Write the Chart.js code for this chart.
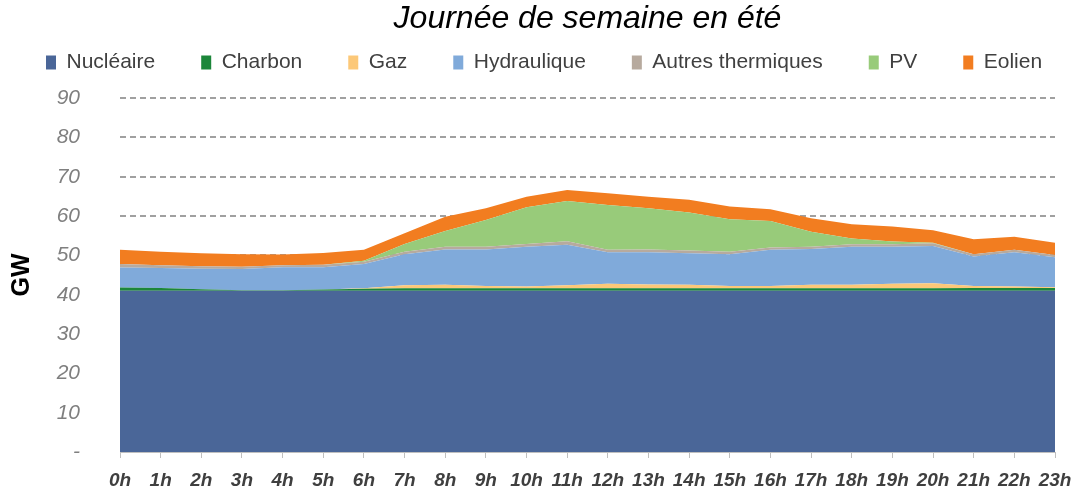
<!DOCTYPE html>
<html>
<head>
<meta charset="utf-8">
<script src="https://cdn.jsdelivr.net/npm/chart.js@4/dist/chart.umd.min.js"></script>
<style>
  html, body { margin: 0; padding: 0; background: #fff; }
  #wrap { width: 1077px; height: 493px; position: relative; }
</style>
</head>
<body>
<div id="wrap"><canvas id="chart"></canvas></div>
<script>
// Data (GW)
const hours = ["0h","1h","2h","3h","4h","5h","6h","7h","8h","9h","10h","11h","12h","13h","14h","15h","16h","17h","18h","19h","20h","21h","22h","23h"];
const nucleaire = [41,41,41,41,41,41,41,41,41,41,41,41,41,41,41,41,41,41,41,41,41,41,41,41];
const charbon = [0.8,0.7,0.4,0.1,0.1,0.3,0.5,0.6,0.6,0.6,0.6,0.6,0.6,0.6,0.6,0.6,0.6,0.6,0.6,0.6,0.6,0.7,0.7,0.7];
const gaz = [0,0,0,0,0,0,0.1,0.8,0.9,0.6,0.5,0.8,1.2,1.0,0.9,0.6,0.6,0.9,0.9,1.2,1.3,0.5,0.4,0.2];
const hydraulique = [5.1,5.1,5.2,5.4,5.9,5.7,6.2,7.9,9.0,9.3,10.1,10.3,8.0,8.2,8.0,8.1,9.2,9.1,9.7,9.4,9.5,7.5,8.7,7.6];
const autresThermiques = [0.9,0.7,0.6,0.6,0.5,0.6,0.6,0.6,0.7,0.7,0.7,0.9,0.6,0.7,0.7,0.6,0.6,0.6,0.6,0.6,0.7,0.6,0.6,0.6];
const pv = [0,0,0,0,0,0,0.2,2.0,4.0,6.8,9.3,10.2,11.4,10.5,9.7,8.3,6.7,3.8,1.5,0.7,0.1,0,0,0];
const eolien = [3.6,3.4,3.3,3.2,2.7,3.0,2.8,2.7,3.6,3.0,2.7,2.8,3.0,2.9,3.2,3.2,3.0,3.4,3.6,3.8,3.2,3.8,3.3,3.1];

const yTicks = [0,10,20,30,40,50,60,70,80,90];
const titleText = "Journée de semaine en été";

const FONT = "'Liberation Sans', Arial, sans-serif";

function area(label, data, color, first) {
  return {
    label: label,
    data: data,
    backgroundColor: color,
    borderColor: color,
    borderWidth: 0,
    pointRadius: 0,
    tension: 0,
    fill: first ? "origin" : "-1"
  };
}

// title centred over the plot area, like the original
const plotTitle = {
  id: "plotTitle",
  afterDraw(chart) {
    const ctx = chart.ctx;
    const a = chart.chartArea;
    ctx.save();
    ctx.font = "italic 32px " + FONT;
    ctx.fillStyle = "#000";
    ctx.textAlign = "center";
    ctx.textBaseline = "middle";
    ctx.fillText(titleText, (a.left + a.right) / 2, 19);
    ctx.restore();
  }
};

// keep the legend on one row and leave room under it
const legendFit = {
  id: "legendFit",
  beforeInit(chart) {
    const fit = chart.legend.fit;
    chart.legend.fit = function () {
      const mw = this.maxWidth;
      this.maxWidth = 3000;
      fit.bind(chart.legend)();
      this.maxWidth = mw;
      this.width = mw;
      this.height += 15;
    };
  },
  beforeDraw(chart) {
    chart.legend.right = 5000;
  }
};

new Chart(document.getElementById("chart"), {
  type: "line",
  data: {
    labels: hours,
    datasets: [
      area("Nucléaire", nucleaire, "#4a6698", true),
      area("Charbon", charbon, "#1c863a"),
      area("Gaz", gaz, "#fcc878"),
      area("Hydraulique", hydraulique, "#80aada"),
      area("Autres thermiques", autresThermiques, "#b7aa9e"),
      area("PV", pv, "#98cb7a"),
      area("Eolien", eolien, "#f27d20")
    ]
  },
  options: {
    responsive: true,
    maintainAspectRatio: false,
    animation: false,
    layout: { padding: { top: 6, right: 0, bottom: 0, left: 0 } },
    plugins: {
      legend: {
        position: "top",
        align: "start",
        labels: {
          boxWidth: 10,
          boxHeight: 14,
          padding: 46,
          color: "#404040",
          font: { family: FONT, size: 21 }
        }
      },
      tooltip: { enabled: false }
    },
    scales: {
      x: {
        offset: false,
        afterFit(scale) {
          scale.height = 41;
          scale.paddingLeft = 0;
          scale.paddingRight = 22;
        },
        grid: { drawOnChartArea: false, drawTicks: true, tickLength: 6, color: "#bfbfbf" },
        border: { display: true, color: "#bfbfbf", width: 1 },
        ticks: {
          autoSkip: false,
          maxRotation: 0,
          padding: 11,
          color: "#3f3f3f",
          font: { family: FONT, size: 19, style: "italic", weight: "bold" }
        }
      },
      y: {
        stacked: true,
        min: 0,
        max: 90,
        afterBuildTicks(scale) {
          scale.ticks = yTicks.map(v => ({ value: v }));
        },
        afterFit(scale) {
          scale.width = 120;
          scale.paddingBottom = 12;
        },
        grid: { color: "#a0a0a0", lineWidth: 2, drawTicks: false },
        border: { display: false, dash: [6, 4] },
        ticks: {
          padding: 40,
          color: "#7f7f7f",
          font: { family: FONT, size: 21, style: "italic" },
          callback: v => (v === 0 ? "-" : v)
        },
        title: {
          display: true,
          text: "GW",
          color: "#000",
          padding: { top: 7, bottom: 0 },
          font: { family: FONT, size: 25, weight: "bold" }
        }
      }
    }
  },
  plugins: [plotTitle, legendFit]
});
</script>
</body>
</html>
